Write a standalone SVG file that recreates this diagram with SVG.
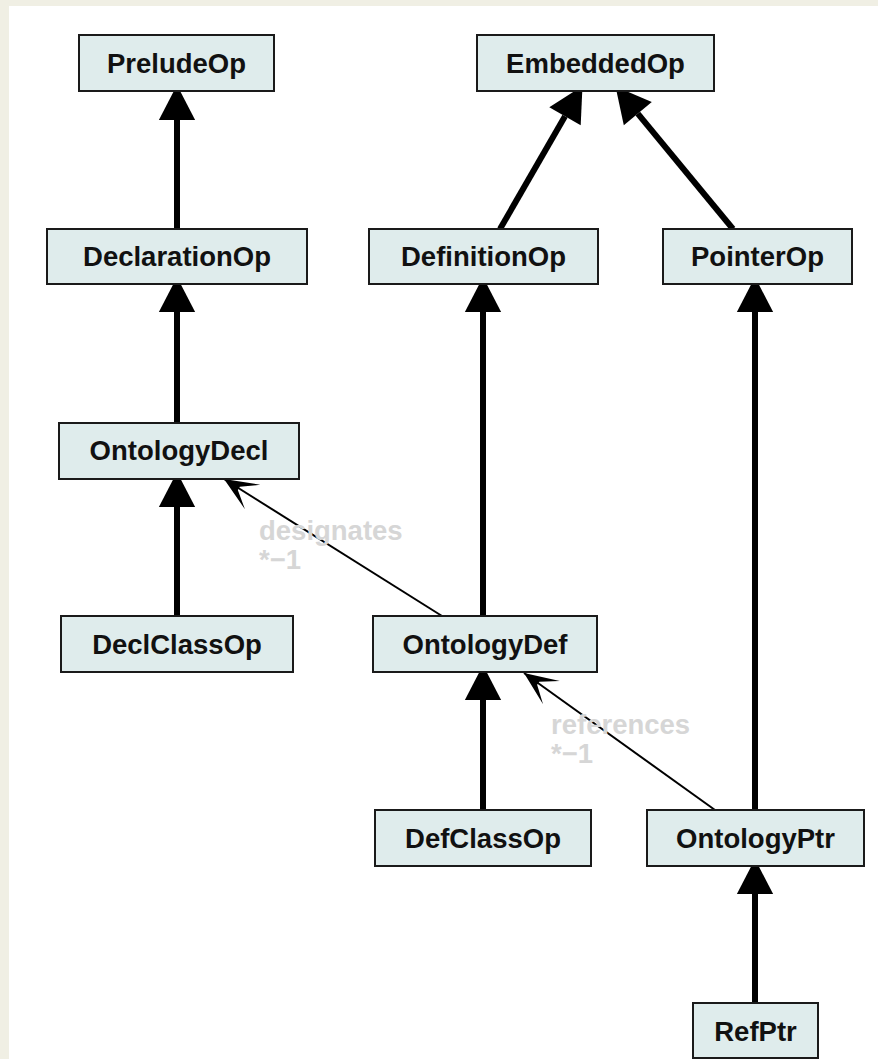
<svg xmlns="http://www.w3.org/2000/svg" width="878" height="1059" viewBox="0 0 878 1059">
  <style>
    .node rect { fill: #dfecec; stroke: #1a1a1a; stroke-width: 2; }
    .node text { font-family: "Liberation Sans", Arial, sans-serif; font-weight: bold; font-size: 27.5px; fill: #111; text-anchor: middle; }
    .inherit { stroke: #000; stroke-width: 6; fill: none; marker-end: url(#solid); }
    .assoc { stroke: #000; stroke-width: 2; fill: none; marker-end: url(#vee); }
    .lbl { font-family: "Liberation Sans", Arial, sans-serif; font-weight: bold; font-size: 27.5px; fill: #d6d6d6; }
  </style>
  <defs>
    <!-- filled triangle, drawn forward from the end of the thick shaft -->
    <marker id="solid" markerUnits="userSpaceOnUse" markerWidth="40" markerHeight="40" viewBox="-2 -16 32 32" refX="0" refY="0" orient="auto" overflow="visible">
      <path d="M0,-14.5 L28,0 L0,14.5 z" fill="#000"/>
    </marker>
    <!-- open barbed head for associations -->
    <marker id="vee" markerUnits="userSpaceOnUse" markerWidth="40" markerHeight="40" viewBox="-30 -15 32 30" refX="0" refY="0" orient="auto" overflow="visible">
      <path d="M0,0 L-27,-11.5 L-14,-1.5 L-14,1.5 L-27,11.5 z" fill="#000"/>
    </marker>
  </defs>

  <rect x="0" y="0" width="878" height="1059" fill="#f0efe4"/>
  <rect x="9" y="6" width="869" height="1053" fill="#ffffff"/>

  <g id="connectors">
    <line class="inherit" x1="177" y1="229" x2="177" y2="120"/>
    <line class="inherit" x1="177" y1="423" x2="177" y2="312"/>
    <line class="inherit" x1="177" y1="616" x2="177" y2="507"/>
    <line class="inherit" x1="483" y1="616" x2="483" y2="312"/>
    <line class="inherit" x1="483" y1="810" x2="483" y2="700"/>
    <line class="inherit" x1="755" y1="810" x2="755" y2="312"/>
    <line class="inherit" x1="755" y1="1003" x2="755" y2="894"/>
    <line class="inherit" x1="500" y1="229" x2="565" y2="116.3"/>
    <line class="inherit" x1="733" y1="229" x2="637.8" y2="113.6"/>
    <line class="assoc" x1="442" y1="616" x2="224" y2="479"/>
    <line class="assoc" x1="715" y1="810" x2="524" y2="673"/>
    <text class="lbl" x="259" y="540">designates</text>
    <text class="lbl" x="259" y="569">*−1</text>
    <text class="lbl" x="551" y="734">references</text>
    <text class="lbl" x="551" y="763">*−1</text>
  </g>

  <g id="PreludeOp" class="node"><rect x="79" y="35" width="195" height="56"/><text x="176.5" y="73">PreludeOp</text></g>
  <g id="EmbeddedOp" class="node"><rect x="477" y="35" width="237" height="56"/><text x="595.5" y="73">EmbeddedOp</text></g>
  <g id="DeclarationOp" class="node"><rect x="47" y="229" width="260" height="55"/><text x="177" y="266">DeclarationOp</text></g>
  <g id="DefinitionOp" class="node"><rect x="369" y="229" width="229" height="55"/><text x="483.5" y="266">DefinitionOp</text></g>
  <g id="PointerOp" class="node"><rect x="663" y="229" width="189" height="55"/><text x="757.5" y="266">PointerOp</text></g>
  <g id="OntologyDecl" class="node"><rect x="59" y="423" width="240" height="56"/><text x="179" y="460">OntologyDecl</text></g>
  <g id="DeclClassOp" class="node"><rect x="61" y="616" width="232" height="56"/><text x="177" y="654">DeclClassOp</text></g>
  <g id="OntologyDef" class="node"><rect x="373" y="616" width="224" height="56"/><text x="485" y="654">OntologyDef</text></g>
  <g id="DefClassOp" class="node"><rect x="375" y="810" width="216" height="56"/><text x="483" y="848">DefClassOp</text></g>
  <g id="OntologyPtr" class="node"><rect x="647" y="810" width="217" height="56"/><text x="755.5" y="848">OntologyPtr</text></g>
  <g id="RefPtr" class="node"><rect x="693" y="1003" width="125" height="55"/><text x="755.5" y="1041">RefPtr</text></g>
</svg>
